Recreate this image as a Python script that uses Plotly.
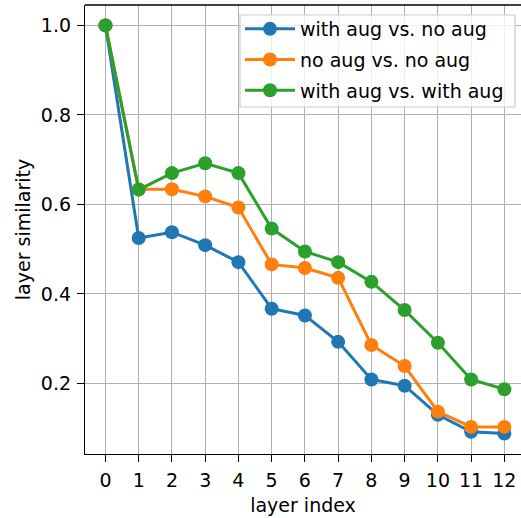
import plotly.graph_objects as go

layers = list(range(13))
with_vs_no = [1.0, 0.525, 0.538, 0.509, 0.471, 0.367, 0.352, 0.293, 0.209, 0.195, 0.130, 0.092, 0.088]
no_vs_no = [1.0, 0.634, 0.634, 0.618, 0.593, 0.466, 0.458, 0.436, 0.286, 0.239, 0.137, 0.103, 0.103]
with_vs_with = [1.0, 0.633, 0.670, 0.692, 0.670, 0.546, 0.495, 0.471, 0.427, 0.364, 0.291, 0.209, 0.187]
names = ["with aug vs. no aug", "no aug vs. no aug", "with aug vs. with aug"]
colors = ["#1f77b4", "#ff7f0e", "#2ca02c"]

fig = go.Figure()
for i, (ys, nm, c) in enumerate(zip([with_vs_no, no_vs_no, with_vs_with], names, colors)):
    fig.add_trace(go.Scatter(
        x=layers, y=ys, name=nm, mode="lines+markers",
        line=dict(color=c, width=3),
        marker=dict(color=c, size=14),
        legendgroup=f"g{i}",
    ))

W, H = 521, 518
ml, mr, mt, mb = 85, 0, 5, 64
pw, ph = W - ml - mr, H - mt - mb

def px_x(p):
    return (p - ml) / pw

def px_y(p):
    return 1 - (p - mt) / ph

font = dict(family="DejaVu Sans", size=19, color="black")
fig.update_layout(
    width=W, height=H,
    margin=dict(l=ml, r=mr, t=mt, b=mb),
    plot_bgcolor="white", paper_bgcolor="white",
    font=font,
    legend=dict(
        x=px_x(240), y=px_y(10), xanchor="left", yanchor="top",
        bgcolor="rgba(0,0,0,0)", borderwidth=0,
        traceorder="grouped", tracegroupgap=3, itemwidth=50,
        font=dict(family="DejaVu Sans", size=19, color="black"),
    ),
    xaxis=dict(
        title=dict(text="layer index", standoff=8, font=dict(family="DejaVu Sans", size=19, color="black")),
        range=[-0.615, 12.5], tickmode="array", tickvals=layers,
        ticktext=[str(v) for v in layers],
        showgrid=True, gridcolor="#b0b0b0", gridwidth=1.2,
        showline=True, linecolor="black", linewidth=1.3,
        ticks="outside", ticklen=7, tickwidth=1.2, tickcolor="black",
        ticklabelstandoff=2,
        zeroline=False,
    ),
    yaxis=dict(
        title=dict(text="layer similarity", standoff=5, font=dict(family="DejaVu Sans", size=19, color="black")),
        range=[0.0424, 1.0456], tickmode="array",
        tickvals=[0.2, 0.4, 0.6, 0.8, 1.0],
        ticktext=["0.2", "0.4", "0.6", "0.8", "1.0"],
        showgrid=True, gridcolor="#b0b0b0", gridwidth=1.2,
        showline=True, linecolor="black", linewidth=1.3,
        ticks="outside", ticklen=7, tickwidth=1.2, tickcolor="black",
        ticklabelstandoff=2,
        zeroline=False,
    ),
)
fig.add_shape(type="line", xref="paper", yref="paper", x0=0, x1=1, y0=1, y1=1,
              line=dict(color="black", width=1.3))
fig.add_shape(type="rect", xref="paper", yref="paper", layer="above",
              x0=px_x(240), x1=px_x(515), y0=px_y(107), y1=px_y(15),
              fillcolor="rgba(255,255,255,0.8)", line=dict(color="#cccccc", width=1.2))
fig.write_html("out.html")
